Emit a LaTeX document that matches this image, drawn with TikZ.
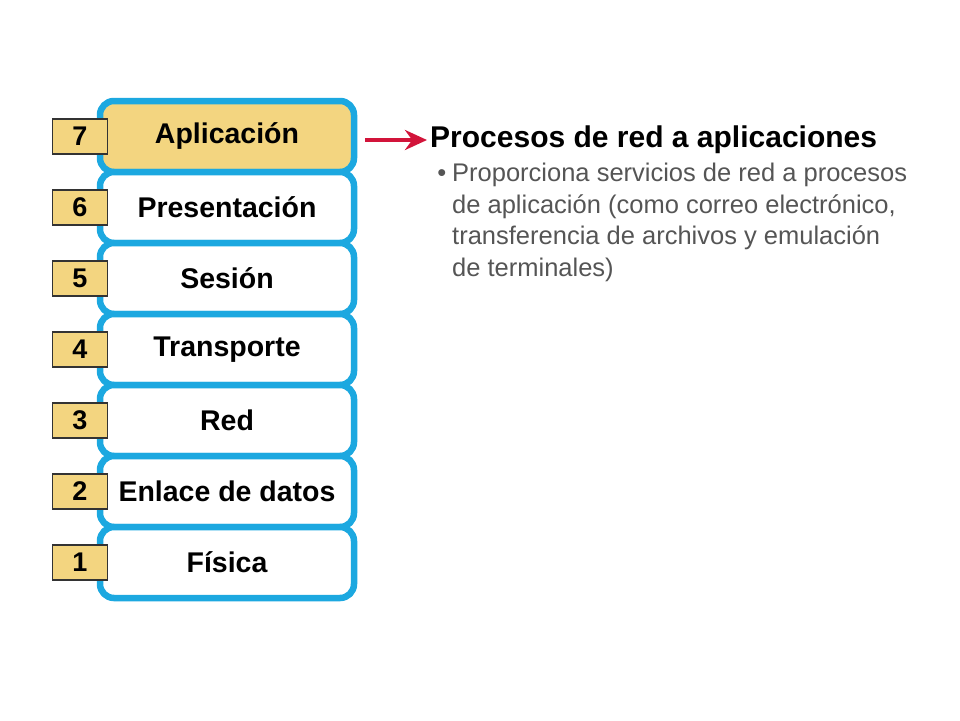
\documentclass[tikz,border=0pt]{standalone}
\usepackage{fontspec}
\setmainfont{Liberation Sans}
\usepackage{xcolor}
\usetikzlibrary{arrows.meta}
\definecolor{osiblue}{RGB}{28,168,224}
\definecolor{ositan}{RGB}{243,213,128}
\definecolor{osired}{RGB}{210,20,58}
\definecolor{descgray}{RGB}{85,85,85}

\begin{document}
\begin{tikzpicture}[x=1pt, y=-1pt, node distance=71pt]
    \tikzstyle{layer} = [rectangle, rounded corners=14pt, draw=osiblue, line width=6.5pt, fill=white, minimum width=254pt, minimum height=71pt, font=\fontsize{28.5}{32}\selectfont\bfseries]
    \tikzstyle{num} = [rectangle, draw=black!80, line width=1.5pt, fill=ositan, minimum width=55pt, minimum height=35pt, font=\fontsize{27}{30}\selectfont\bfseries]
    \tikzstyle{arrow} = [line width=4pt, draw=osired, -{Stealth[length=22pt, width=20pt]}]

    \useasboundingbox (0,0) rectangle (960,720);

    \node [layer, fill=ositan] (l7) at (227,136.5) {Aplicación};
    \node [layer, below of=l7] (l6) {Presentación};
    \node [layer, below of=l6] (l5) {Sesión};
    \node [layer, below of=l5] (l4) {Transporte};
    \node [layer, below of=l4] (l3) {Red};
    \node [layer, below of=l3] (l2) {Enlace de datos};
    \node [layer, below of=l2] (l1) {Física};

    \foreach \i in {1,...,7}
        \node [num] (n\i) at (80,0 |- l\i.center) {\i};

    \node [anchor=west, inner sep=0pt, font=\fontsize{30}{34}\selectfont\bfseries] (title) at (430,140) {Procesos de red a aplicaciones};
    \node [anchor=north west, inner sep=0pt, align=left, text=descgray, font=\fontsize{25.5}{31.5}\selectfont] (desc) at (452,163)
        {\llap{\textbullet\hspace{6pt}}Proporciona servicios de red a procesos\\
         de aplicación (como correo electrónico,\\
         transferencia de archivos y emulación\\
         de terminales)};

    \draw [arrow, shorten <=8pt, shorten >=3pt] (l7.east |- title.west) -- (title.west);
\end{tikzpicture}
\end{document}
